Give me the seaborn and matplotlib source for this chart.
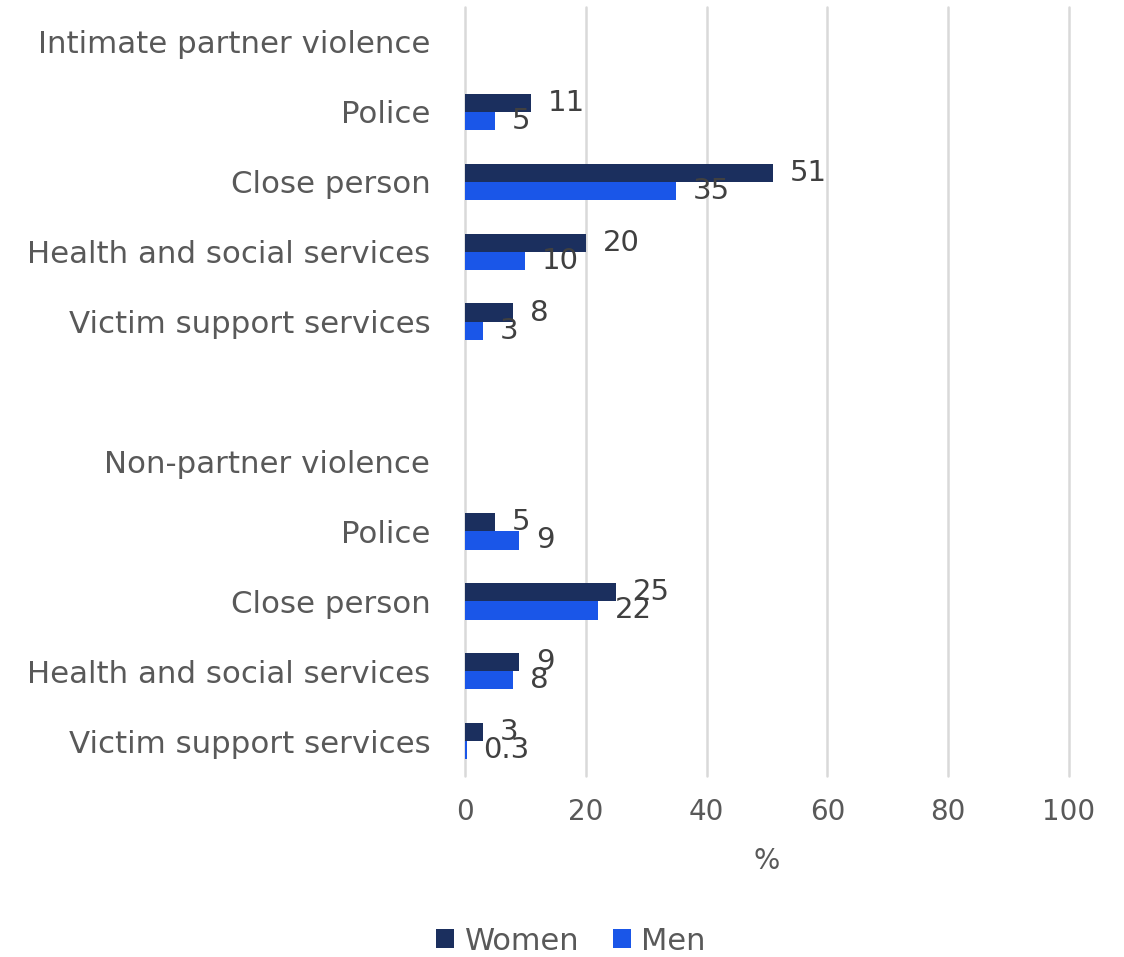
import numpy as np
import pandas as pd
import matplotlib
matplotlib.use("Agg")
import matplotlib.pyplot as plt
import seaborn as sns

# Row labels, top to bottom (header rows and a spacer row carry no bars)
row_labels = [
    "Intimate partner violence", "Police", "Close person",
    "Health and social services", "Victim support services", "",
    "Non-partner violence", "Police", "Close person",
    "Health and social services", "Victim support services",
]
row_ids = [f"r{i}" for i in range(len(row_labels))]

# Share (%) who told someone, by row; None = no bar on that row
women = [None, 11, 51, 20, 8, None, None, 5, 25, 9, 3]
men = [None, 5, 35, 10, 3, None, None, 9, 22, 8, 0.3]
series = ["Women", "Men"]
colors = {"Women": "#1b2f5e", "Men": "#1a56e8"}

records = []
for rid, w, m in zip(row_ids, women, men):
    records.append({"row": rid, "group": "Women", "value": w})
    records.append({"row": rid, "group": "Men", "value": m})
df = pd.DataFrame(records).dropna(subset=["value"])

sns.set_style("white")
plt.rcParams["font.family"] = ["DejaVu Sans"]

fig = plt.figure(figsize=(11.24, 9.57), dpi=100)
ax = fig.add_axes([0.4137, 0.189, 0.5374, 0.8037])

sns.barplot(
    data=df, y="row", x="value", hue="group", order=row_ids,
    hue_order=series, palette=colors, saturation=1, orient="h", width=0.52,
    dodge=True, gap=0, edgecolor="none", linewidth=0, ax=ax, legend=True,
)

ax.set_xlim(0, 100)
ax.set_ylim(len(row_ids) - 0.5, -0.5)
ax.set_xticks(np.arange(0, 101, 20))
ax.xaxis.grid(True, color="#d9d9d9", linewidth=1.8)
ax.yaxis.grid(False)
ax.set_axisbelow(True)
for line in ax.get_xgridlines():
    line.set_clip_on(False)
for s in ax.spines.values():
    s.set_visible(False)

label_color = "#595959"
ax.set_yticks(range(len(row_ids)))
ax.set_yticklabels(row_labels)
ax.tick_params(axis="y", length=0, pad=25, labelsize=22.2, labelcolor=label_color)
ax.tick_params(axis="x", length=0, pad=16, labelsize=20, labelcolor=label_color)
ax.set_ylabel("")
ax.set_xlabel("%", fontsize=20, color=label_color, labelpad=15)

for cont in ax.containers:
    labels = [f"{bar.get_width():g}" for bar in cont]
    ax.bar_label(cont, labels=labels, padding=12, fontsize=21, color="#404040")

handles, labs = ax.get_legend_handles_labels()
ax.legend_.remove()
fig.legend(
    handles, labs, loc="center", bbox_to_anchor=(571 / 1124, 1 - 941 / 957),
    ncol=2, frameon=False, prop={"size": 22},
    handlelength=0.58, handleheight=0.58, handletextpad=0.35,
    columnspacing=1.1, labelcolor=label_color,
)

fig.savefig("out.png", dpi=100, facecolor="white")
